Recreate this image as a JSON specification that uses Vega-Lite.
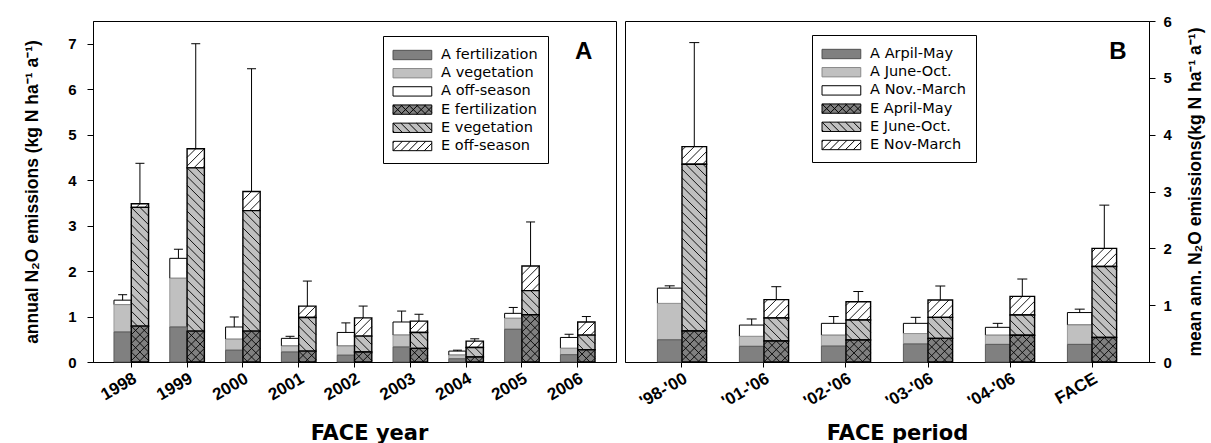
{
"$schema": "https://vega.github.io/schema/vega-lite/v6.json",
"background": "white",
"padding": {"left": 23, "top": 13, "right": 2, "bottom": 0},
"spacing": 7,
"config": {
 "font": "Liberation Sans",
 "view": {"stroke": "black", "strokeWidth": 1},
 "axis": {"grid": false, "domainColor": "black", "tickColor": "black", "labelColor": "black", "titleColor": "black"},
 "axisX": {"labelAngle": -30, "labelAlign": "right", "labelBaseline": "top", "labelFontWeight": "bold", "labelFontSize": 17, "tickSize": 5, "labelPadding": 3, "titleFont": "DejaVu Sans", "titleFontWeight": "bold", "titleFontSize": 21, "titleBaseline": "alphabetic", "bandPosition": 0.5},
 "axisY": {"labelFontWeight": "bold", "labelFontSize": 15, "tickSize": 6, "labelPadding": 11, "titleFontWeight": "bold", "titleFontSize": 17.5, "titlePadding": 26}
},
"resolve": {"scale": {"x": "independent", "y": "independent", "xOffset": "independent", "fill": "independent", "stroke": "independent", "shape": "independent"}, "legend": {"fill": "independent", "stroke": "independent", "shape": "independent"}},
"datasets": {
 "yearly": [
  {"cat":"1998","trt":"A","fert":0.66,"veg":1.26,"tot":1.36,"errTop":1.48},
  {"cat":"1998","trt":"E","fert":0.79,"veg":3.40,"tot":3.48,"errTop":4.37},
  {"cat":"1999","trt":"A","fert":0.77,"veg":1.84,"tot":2.28,"errTop":2.48},
  {"cat":"1999","trt":"E","fert":0.68,"veg":4.27,"tot":4.69,"errTop":7.00},
  {"cat":"2000","trt":"A","fert":0.26,"veg":0.50,"tot":0.77,"errTop":0.99},
  {"cat":"2000","trt":"E","fert":0.68,"veg":3.33,"tot":3.75,"errTop":6.45},
  {"cat":"2001","trt":"A","fert":0.22,"veg":0.35,"tot":0.52,"errTop":0.565},
  {"cat":"2001","trt":"E","fert":0.24,"veg":0.98,"tot":1.23,"errTop":1.78},
  {"cat":"2002","trt":"A","fert":0.15,"veg":0.35,"tot":0.65,"errTop":0.86},
  {"cat":"2002","trt":"E","fert":0.22,"veg":0.57,"tot":0.97,"errTop":1.23},
  {"cat":"2003","trt":"A","fert":0.33,"veg":0.59,"tot":0.88,"errTop":1.12},
  {"cat":"2003","trt":"E","fert":0.30,"veg":0.65,"tot":0.90,"errTop":1.05},
  {"cat":"2004","trt":"A","fert":0.07,"veg":0.15,"tot":0.24,"errTop":0.26},
  {"cat":"2004","trt":"E","fert":0.11,"veg":0.32,"tot":0.46,"errTop":0.51},
  {"cat":"2005","trt":"A","fert":0.72,"veg":0.96,"tot":1.07,"errTop":1.20},
  {"cat":"2005","trt":"E","fert":1.04,"veg":1.57,"tot":2.11,"errTop":3.08},
  {"cat":"2006","trt":"A","fert":0.16,"veg":0.30,"tot":0.54,"errTop":0.61},
  {"cat":"2006","trt":"E","fert":0.27,"veg":0.59,"tot":0.88,"errTop":1.00}
 ],
 "period": [
  {"cat":"'98-'00","trt":"A","fert":0.39,"veg":1.03,"tot":1.30,"errTop":1.34},
  {"cat":"'98-'00","trt":"E","fert":0.545,"veg":3.48,"tot":3.79,"errTop":5.62},
  {"cat":"'01-'06","trt":"A","fert":0.276,"veg":0.45,"tot":0.65,"errTop":0.757},
  {"cat":"'01-'06","trt":"E","fert":0.37,"veg":0.774,"tot":1.097,"errTop":1.325},
  {"cat":"'02-'06","trt":"A","fert":0.28,"veg":0.47,"tot":0.68,"errTop":0.80},
  {"cat":"'02-'06","trt":"E","fert":0.387,"veg":0.74,"tot":1.06,"errTop":1.24},
  {"cat":"'03-'06","trt":"A","fert":0.317,"veg":0.50,"tot":0.68,"errTop":0.786},
  {"cat":"'03-'06","trt":"E","fert":0.416,"veg":0.786,"tot":1.09,"errTop":1.337},
  {"cat":"'04-'06","trt":"A","fert":0.31,"veg":0.47,"tot":0.61,"errTop":0.68},
  {"cat":"'04-'06","trt":"E","fert":0.47,"veg":0.827,"tot":1.155,"errTop":1.46},
  {"cat":"FACE","trt":"A","fert":0.31,"veg":0.65,"tot":0.87,"errTop":0.93},
  {"cat":"FACE","trt":"E","fert":0.43,"veg":1.68,"tot":2.00,"errTop":2.76}
 ],
 "legA": [{"label":"A fertilization"},{"label":"A vegetation"},{"label":"A off-season"},{"label":"E fertilization"},{"label":"E vegetation"},{"label":"E off-season"}],
 "legB": [{"label":"A Arpil-May"},{"label":"A June-Oct."},{"label":"A Nov.-March"},{"label":"E April-May"},{"label":"E June-Oct."},{"label":"E Nov-March"}],
 "tagA": [{"cat":"2006","y":6.67,"tag":"A"}],
 "tagB": [{"cat":"FACE","y":5.33,"tag":"B"}]
},
"hconcat": [
 {
  "width": 523, "height": 341,
  "layer": [
   {"data": {"name": "legA"}, "mark": {"type": "point", "filled": true, "opacity": 0, "strokeWidth": 1},
    "encoding": {
     "fill": {"field": "label", "type": "nominal", "scale": {"domain": ["A fertilization","A vegetation","A off-season","E fertilization","E vegetation","E off-season"], "range": ["#808080","#c0c0c0","#ffffff","#808080","#c0c0c0","#ffffff"]},
      "legend": {"title": null, "orient": "none", "legendX": 290, "legendY": 15, "direction": "vertical", "symbolSize": 289, "symbolStrokeWidth": 1, "symbolOffset": 10.4, "labelOffset": 19.7, "rowPadding": 2.2, "padding": 10, "strokeColor": "black", "fillColor": "white", "labelFont": "DejaVu Sans", "labelFontSize": 14.5, "labelColor": "black", "symbolOpacity": 1}},
     "stroke": {"field": "label", "type": "nominal", "scale": {"domain": ["A fertilization","A vegetation","A off-season","E fertilization","E vegetation","E off-season"], "range": ["#505050","#8a8a8a","#000000","#000000","#000000","#000000"]},
      "legend": {"title": null, "orient": "none", "legendX": 290, "legendY": 15, "direction": "vertical", "symbolSize": 289, "symbolStrokeWidth": 1, "symbolOffset": 10.4, "labelOffset": 19.7, "rowPadding": 2.2, "padding": 10, "strokeColor": "black", "fillColor": "white", "labelFont": "DejaVu Sans", "labelFontSize": 14.5, "labelColor": "black", "symbolOpacity": 1}},
     "shape": {"field": "label", "type": "nominal", "scale": {"domain": ["A fertilization","A vegetation","A off-season","E fertilization","E vegetation","E off-season"], "range": [
       "M-2.28,-0.55L2.28,-0.55L2.28,0.55L-2.28,0.55Z",
       "M-2.28,-0.55L2.28,-0.55L2.28,0.55L-2.28,0.55Z",
       "M-2.28,-0.55L2.28,-0.55L2.28,0.55L-2.28,0.55Z",
       "M-2.28,-0.55L2.28,-0.55L2.28,0.55L-2.28,0.55ZM-2.28,-0.55L-1.18,0.55M-1.36,-0.55L-0.26,0.55M-0.44,-0.55L0.66,0.55M0.48,-0.55L1.58,0.55M1.4,-0.55L2.28,0.33M-2.28,0.37L-2.1,0.55M-2.28,0.55L-1.18,-0.55M-1.36,0.55L-0.26,-0.55M-0.44,0.55L0.66,-0.55M0.48,0.55L1.58,-0.55M1.4,0.55L2.28,-0.33M-2.28,-0.37L-2.1,-0.55",
       "M-2.28,-0.55L2.28,-0.55L2.28,0.55L-2.28,0.55ZM-2.28,-0.55L-1.18,0.55M-1.36,-0.55L-0.26,0.55M-0.44,-0.55L0.66,0.55M0.48,-0.55L1.58,0.55M1.4,-0.55L2.28,0.33M-2.28,0.37L-2.1,0.55",
       "M-2.28,-0.55L2.28,-0.55L2.28,0.55L-2.28,0.55ZM-2.28,0.55L-1.18,-0.55M-1.36,0.55L-0.26,-0.55M-0.44,0.55L0.66,-0.55M0.48,0.55L1.58,-0.55M1.4,0.55L2.28,-0.33M-2.28,-0.37L-2.1,-0.55"]},
      "legend": {"title": null, "orient": "none", "legendX": 290, "legendY": 15, "direction": "vertical", "symbolSize": 289, "symbolStrokeWidth": 1, "symbolOffset": 10.4, "labelOffset": 19.7, "rowPadding": 2.2, "padding": 10, "strokeColor": "black", "fillColor": "white", "labelFont": "DejaVu Sans", "labelFontSize": 14.5, "labelColor": "black", "symbolOpacity": 1}}
    }},
   {"data": {"name": "yearly"}, "mark": {"type": "bar", "fill": "white", "stroke": "black"},
    "encoding": {
     "x": {"field": "cat", "type": "nominal", "scale": {"domain": ["1998","1999","2000","2001","2002","2003","2004","2005","2006"], "paddingInner": 0.38, "paddingOuter": 0.376}, "axis": {"title": "FACE year", "titleY": 77, "titleX": 276}},
     "xOffset": {"field": "trt", "type": "nominal", "scale": {"domain": ["A","E"], "paddingInner": 0, "paddingOuter": 0}},
     "y": {"field": "tot", "type": "quantitative", "scale": {"domain": [0, 7.5], "nice": false}, "axis": {"values": [0,1,2,3,4,5,6,7], "format": "d", "title": "annual N₂O emissions (kg N ha⁻¹ a⁻¹)"}},
     "y2": {"field": "veg"},
     "strokeWidth": {"condition": {"test": "datum.trt === 'E'", "value": 1.4}, "value": 1}
    }},
   {"data": {"name": "yearly"}, "transform": [{"filter": "datum.trt === 'E'"}],
    "mark": {"type": "point", "shape": "M-1,1L0,0M-1,2L1,0M-1,3L1,1M-1,4L1,2M-1,5L1,3M-1,6L1,4M-1,7L1,5M-1,8L1,6", "size": 299, "filled": false, "stroke": "black", "strokeWidth": 0.9, "opacity": 1, "clip": true},
    "encoding": {
     "x": {"field": "cat", "type": "nominal", "scale": {"domain": ["1998","1999","2000","2001","2002","2003","2004","2005","2006"], "paddingInner": 0.38, "paddingOuter": 0.376}},
     "xOffset": {"field": "trt", "type": "nominal", "scale": {"domain": ["A","E"], "paddingInner": 0, "paddingOuter": 0}},
     "y": {"field": "tot", "type": "quantitative", "scale": {"domain": [0, 7.5], "nice": false}}
    }},
   {"data": {"name": "yearly"}, "mark": {"type": "bar", "fill": "#c0c0c0"},
    "encoding": {
     "x": {"field": "cat", "type": "nominal", "scale": {"domain": ["1998","1999","2000","2001","2002","2003","2004","2005","2006"], "paddingInner": 0.38, "paddingOuter": 0.376}},
     "xOffset": {"field": "trt", "type": "nominal", "scale": {"domain": ["A","E"], "paddingInner": 0, "paddingOuter": 0}},
     "y": {"field": "veg", "type": "quantitative", "scale": {"domain": [0, 7.5], "nice": false}},
     "y2": {"field": "fert"},
     "stroke": {"condition": {"test": "datum.trt === 'E'", "value": "black"}, "value": "#9a9a9a"},
     "strokeWidth": {"condition": {"test": "datum.trt === 'E'", "value": 1.4}, "value": 1}
    }},
   {"data": {"name": "yearly"}, "transform": [{"filter": "datum.trt === 'E'"}],
    "mark": {"type": "point", "shape": "M0,0L1,1M-1,0L1,2M-1,1L1,3M-1,2L1,4M-1,3L1,5M-1,4L1,6M-1,5L1,7M-1,6L1,8M-1,7L1,9M-1,8L1,10M-1,9L1,11M-1,10L1,12M-1,11L1,13M-1,12L1,14M-1,13L1,15M-1,14L1,16M-1,15L1,17M-1,16L1,18M-1,17L1,19M-1,18L1,20M-1,19L1,21M-1,20L1,22", "size": 299, "filled": false, "stroke": "black", "strokeWidth": 0.9, "opacity": 1, "clip": true},
    "encoding": {
     "x": {"field": "cat", "type": "nominal", "scale": {"domain": ["1998","1999","2000","2001","2002","2003","2004","2005","2006"], "paddingInner": 0.38, "paddingOuter": 0.376}},
     "xOffset": {"field": "trt", "type": "nominal", "scale": {"domain": ["A","E"], "paddingInner": 0, "paddingOuter": 0}},
     "y": {"field": "veg", "type": "quantitative", "scale": {"domain": [0, 7.5], "nice": false}}
    }},
   {"data": {"name": "yearly"}, "mark": {"type": "bar", "fill": "#808080"},
    "encoding": {
     "x": {"field": "cat", "type": "nominal", "scale": {"domain": ["1998","1999","2000","2001","2002","2003","2004","2005","2006"], "paddingInner": 0.38, "paddingOuter": 0.376}},
     "xOffset": {"field": "trt", "type": "nominal", "scale": {"domain": ["A","E"], "paddingInner": 0, "paddingOuter": 0}},
     "y": {"field": "fert", "type": "quantitative", "scale": {"domain": [0, 7.5], "nice": false}},
     "y2": {"datum": 0},
     "stroke": {"condition": {"test": "datum.trt === 'E'", "value": "black"}, "value": "#5a5a5a"},
     "strokeWidth": {"condition": {"test": "datum.trt === 'E'", "value": 1.4}, "value": 1}
    }},
   {"data": {"name": "yearly"}, "transform": [{"filter": "datum.trt === 'E'"}],
    "mark": {"type": "point", "shape": "M0,0L1,1M-1,0L1,2M-1,1L1,3M-1,2L1,4M-1,3L1,5M-1,4L1,6M-1,5L1,7M-1,6L1,8M-1,1L0,0M-1,2L1,0M-1,3L1,1M-1,4L1,2M-1,5L1,3M-1,6L1,4M-1,7L1,5M-1,8L1,6", "size": 299, "filled": false, "stroke": "black", "strokeWidth": 0.9, "opacity": 1, "clip": true},
    "encoding": {
     "x": {"field": "cat", "type": "nominal", "scale": {"domain": ["1998","1999","2000","2001","2002","2003","2004","2005","2006"], "paddingInner": 0.38, "paddingOuter": 0.376}},
     "xOffset": {"field": "trt", "type": "nominal", "scale": {"domain": ["A","E"], "paddingInner": 0, "paddingOuter": 0}},
     "y": {"field": "fert", "type": "quantitative", "scale": {"domain": [0, 7.5], "nice": false}}
    }},
   {"data": {"name": "yearly"}, "mark": {"type": "rule", "stroke": "black", "strokeWidth": 1},
    "encoding": {
     "x": {"field": "cat", "type": "nominal", "scale": {"domain": ["1998","1999","2000","2001","2002","2003","2004","2005","2006"], "paddingInner": 0.38, "paddingOuter": 0.376}},
     "xOffset": {"field": "trt", "type": "nominal", "scale": {"domain": ["A","E"], "paddingInner": 0, "paddingOuter": 0}},
     "y": {"field": "tot", "type": "quantitative", "scale": {"domain": [0, 7.5], "nice": false}},
     "y2": {"field": "errTop"}
    }},
   {"data": {"name": "yearly"}, "mark": {"type": "point", "shape": "M-1,0L1,0", "size": 81, "filled": false, "stroke": "black", "strokeWidth": 1, "opacity": 1},
    "encoding": {
     "x": {"field": "cat", "type": "nominal", "scale": {"domain": ["1998","1999","2000","2001","2002","2003","2004","2005","2006"], "paddingInner": 0.38, "paddingOuter": 0.376}},
     "xOffset": {"field": "trt", "type": "nominal", "scale": {"domain": ["A","E"], "paddingInner": 0, "paddingOuter": 0}},
     "y": {"field": "errTop", "type": "quantitative", "scale": {"domain": [0, 7.5], "nice": false}}
    }},
   {"mark": {"type": "rule", "stroke": "black", "strokeWidth": 1, "strokeDash": [7, 3]},
    "encoding": {"x": {"datum": "2000", "bandPosition": 1.33}}},
   {"data": {"name": "tagA"}, "mark": {"type": "text", "font": "Liberation Sans", "fontSize": 24, "fontWeight": "bold", "baseline": "alphabetic", "align": "center", "dx": 6, "color": "black"},
    "encoding": {"x": {"field": "cat", "type": "nominal"}, "y": {"field": "y", "type": "quantitative"}, "text": {"field": "tag"}}}
  ]
 },
 {
  "width": 524, "height": 341,
  "layer": [
   {"data": {"name": "legB"}, "mark": {"type": "point", "filled": true, "opacity": 0, "strokeWidth": 1},
    "encoding": {
     "fill": {"field": "label", "type": "nominal", "scale": {"domain": ["A Arpil-May","A June-Oct.","A Nov.-March","E April-May","E June-Oct.","E Nov-March"], "range": ["#808080","#c0c0c0","#ffffff","#808080","#c0c0c0","#ffffff"]},
      "legend": {"title": null, "orient": "none", "legendX": 187, "legendY": 14, "direction": "vertical", "symbolSize": 289, "symbolStrokeWidth": 1, "symbolOffset": 10.4, "labelOffset": 19.7, "rowPadding": 2.2, "padding": 10, "strokeColor": "black", "fillColor": "white", "labelFont": "DejaVu Sans", "labelFontSize": 14.5, "labelColor": "black", "symbolOpacity": 1}},
     "stroke": {"field": "label", "type": "nominal", "scale": {"domain": ["A Arpil-May","A June-Oct.","A Nov.-March","E April-May","E June-Oct.","E Nov-March"], "range": ["#505050","#8a8a8a","#000000","#000000","#000000","#000000"]},
      "legend": {"title": null, "orient": "none", "legendX": 187, "legendY": 14, "direction": "vertical", "symbolSize": 289, "symbolStrokeWidth": 1, "symbolOffset": 10.4, "labelOffset": 19.7, "rowPadding": 2.2, "padding": 10, "strokeColor": "black", "fillColor": "white", "labelFont": "DejaVu Sans", "labelFontSize": 14.5, "labelColor": "black", "symbolOpacity": 1}},
     "shape": {"field": "label", "type": "nominal", "scale": {"domain": ["A Arpil-May","A June-Oct.","A Nov.-March","E April-May","E June-Oct.","E Nov-March"], "range": [
       "M-2.28,-0.55L2.28,-0.55L2.28,0.55L-2.28,0.55Z",
       "M-2.28,-0.55L2.28,-0.55L2.28,0.55L-2.28,0.55Z",
       "M-2.28,-0.55L2.28,-0.55L2.28,0.55L-2.28,0.55Z",
       "M-2.28,-0.55L2.28,-0.55L2.28,0.55L-2.28,0.55ZM-2.28,-0.55L-1.18,0.55M-1.36,-0.55L-0.26,0.55M-0.44,-0.55L0.66,0.55M0.48,-0.55L1.58,0.55M1.4,-0.55L2.28,0.33M-2.28,0.37L-2.1,0.55M-2.28,0.55L-1.18,-0.55M-1.36,0.55L-0.26,-0.55M-0.44,0.55L0.66,-0.55M0.48,0.55L1.58,-0.55M1.4,0.55L2.28,-0.33M-2.28,-0.37L-2.1,-0.55",
       "M-2.28,-0.55L2.28,-0.55L2.28,0.55L-2.28,0.55ZM-2.28,-0.55L-1.18,0.55M-1.36,-0.55L-0.26,0.55M-0.44,-0.55L0.66,0.55M0.48,-0.55L1.58,0.55M1.4,-0.55L2.28,0.33M-2.28,0.37L-2.1,0.55",
       "M-2.28,-0.55L2.28,-0.55L2.28,0.55L-2.28,0.55ZM-2.28,0.55L-1.18,-0.55M-1.36,0.55L-0.26,-0.55M-0.44,0.55L0.66,-0.55M0.48,0.55L1.58,-0.55M1.4,0.55L2.28,-0.33M-2.28,-0.37L-2.1,-0.55"]},
      "legend": {"title": null, "orient": "none", "legendX": 187, "legendY": 14, "direction": "vertical", "symbolSize": 289, "symbolStrokeWidth": 1, "symbolOffset": 10.4, "labelOffset": 19.7, "rowPadding": 2.2, "padding": 10, "strokeColor": "black", "fillColor": "white", "labelFont": "DejaVu Sans", "labelFontSize": 14.5, "labelColor": "black", "symbolOpacity": 1}}
    }},
   {"data": {"name": "period"}, "mark": {"type": "bar", "fill": "white", "stroke": "black"},
    "encoding": {
     "x": {"field": "cat", "type": "nominal", "scale": {"domain": ["'98-'00","'01-'06","'02-'06","'03-'06","'04-'06","FACE"], "paddingInner": 0.4, "paddingOuter": 0.395}, "axis": {"title": "FACE period", "titleY": 77, "titleX": 272}},
     "xOffset": {"field": "trt", "type": "nominal", "scale": {"domain": ["A","E"], "paddingInner": 0, "paddingOuter": 0}},
     "y": {"field": "tot", "type": "quantitative", "scale": {"domain": [0, 6], "nice": false}, "axis": {"orient": "right", "values": [0,1,2,3,4,5,6], "format": "d", "labelPadding": 8, "titlePadding": 15, "titleAngle": 270, "titleBaseline": "top", "title": "mean ann. N₂O emissions(kg N ha⁻¹ a⁻¹)"}},
     "y2": {"field": "veg"},
     "strokeWidth": {"condition": {"test": "datum.trt === 'E'", "value": 1.4}, "value": 1}
    }},
   {"data": {"name": "period"}, "transform": [{"filter": "datum.trt === 'E'"}],
    "mark": {"type": "point", "shape": "M-1,0.3L-0.7,0M-1,1L0,0M-1,1.7L0.7,0M-1,2.4L1,0.4M-1,3.1L1,1.1M-1,3.8L1,1.8M-1,4.5L1,2.5M-1,5.2L1,3.2", "size": 605, "filled": false, "stroke": "black", "strokeWidth": 0.9, "opacity": 1, "clip": true},
    "encoding": {
     "x": {"field": "cat", "type": "nominal", "scale": {"domain": ["'98-'00","'01-'06","'02-'06","'03-'06","'04-'06","FACE"], "paddingInner": 0.4, "paddingOuter": 0.395}},
     "xOffset": {"field": "trt", "type": "nominal", "scale": {"domain": ["A","E"], "paddingInner": 0, "paddingOuter": 0}},
     "y": {"field": "tot", "type": "quantitative", "scale": {"domain": [0, 6], "nice": false}}
    }},
   {"data": {"name": "period"}, "mark": {"type": "bar", "fill": "#c0c0c0"},
    "encoding": {
     "x": {"field": "cat", "type": "nominal", "scale": {"domain": ["'98-'00","'01-'06","'02-'06","'03-'06","'04-'06","FACE"], "paddingInner": 0.4, "paddingOuter": 0.395}},
     "xOffset": {"field": "trt", "type": "nominal", "scale": {"domain": ["A","E"], "paddingInner": 0, "paddingOuter": 0}},
     "y": {"field": "veg", "type": "quantitative", "scale": {"domain": [0, 6], "nice": false}},
     "y2": {"field": "fert"},
     "stroke": {"condition": {"test": "datum.trt === 'E'", "value": "black"}, "value": "#9a9a9a"},
     "strokeWidth": {"condition": {"test": "datum.trt === 'E'", "value": 1.4}, "value": 1}
    }},
   {"data": {"name": "period"}, "transform": [{"filter": "datum.trt === 'E'"}],
    "mark": {"type": "point", "shape": "M0.7,0L1,0.3M0,0L1,1M-0.7,0L1,1.7M-1,0.4L1,2.4M-1,1.1L1,3.1M-1,1.8L1,3.8M-1,2.5L1,4.5M-1,3.2L1,5.2M-1,3.9L1,5.9M-1,4.6L1,6.6M-1,5.3L1,7.3M-1,6L1,8M-1,6.7L1,8.7M-1,7.4L1,9.4M-1,8.1L1,10.1M-1,8.8L1,10.8M-1,9.5L1,11.5M-1,10.2L1,12.2M-1,10.9L1,12.9M-1,11.6L1,13.6M-1,12.3L1,14.3M-1,13L1,15M-1,13.7L1,15.7M-1,14.4L1,16.4", "size": 605, "filled": false, "stroke": "black", "strokeWidth": 0.9, "opacity": 1, "clip": true},
    "encoding": {
     "x": {"field": "cat", "type": "nominal", "scale": {"domain": ["'98-'00","'01-'06","'02-'06","'03-'06","'04-'06","FACE"], "paddingInner": 0.4, "paddingOuter": 0.395}},
     "xOffset": {"field": "trt", "type": "nominal", "scale": {"domain": ["A","E"], "paddingInner": 0, "paddingOuter": 0}},
     "y": {"field": "veg", "type": "quantitative", "scale": {"domain": [0, 6], "nice": false}}
    }},
   {"data": {"name": "period"}, "mark": {"type": "bar", "fill": "#808080"},
    "encoding": {
     "x": {"field": "cat", "type": "nominal", "scale": {"domain": ["'98-'00","'01-'06","'02-'06","'03-'06","'04-'06","FACE"], "paddingInner": 0.4, "paddingOuter": 0.395}},
     "xOffset": {"field": "trt", "type": "nominal", "scale": {"domain": ["A","E"], "paddingInner": 0, "paddingOuter": 0}},
     "y": {"field": "fert", "type": "quantitative", "scale": {"domain": [0, 6], "nice": false}},
     "y2": {"datum": 0},
     "stroke": {"condition": {"test": "datum.trt === 'E'", "value": "black"}, "value": "#5a5a5a"},
     "strokeWidth": {"condition": {"test": "datum.trt === 'E'", "value": 1.4}, "value": 1}
    }},
   {"data": {"name": "period"}, "transform": [{"filter": "datum.trt === 'E'"}],
    "mark": {"type": "point", "shape": "M0.7,0L1,0.3M0,0L1,1M-0.7,0L1,1.7M-1,0.4L1,2.4M-1,1.1L1,3.1M-1,1.8L1,3.8M-1,2.5L1,4.5M-1,0.3L-0.7,0M-1,1L0,0M-1,1.7L0.7,0M-1,2.4L1,0.4M-1,3.1L1,1.1M-1,3.8L1,1.8M-1,4.5L1,2.5", "size": 605, "filled": false, "stroke": "black", "strokeWidth": 0.9, "opacity": 1, "clip": true},
    "encoding": {
     "x": {"field": "cat", "type": "nominal", "scale": {"domain": ["'98-'00","'01-'06","'02-'06","'03-'06","'04-'06","FACE"], "paddingInner": 0.4, "paddingOuter": 0.395}},
     "xOffset": {"field": "trt", "type": "nominal", "scale": {"domain": ["A","E"], "paddingInner": 0, "paddingOuter": 0}},
     "y": {"field": "fert", "type": "quantitative", "scale": {"domain": [0, 6], "nice": false}}
    }},
   {"data": {"name": "period"}, "mark": {"type": "rule", "stroke": "black", "strokeWidth": 1},
    "encoding": {
     "x": {"field": "cat", "type": "nominal", "scale": {"domain": ["'98-'00","'01-'06","'02-'06","'03-'06","'04-'06","FACE"], "paddingInner": 0.4, "paddingOuter": 0.395}},
     "xOffset": {"field": "trt", "type": "nominal", "scale": {"domain": ["A","E"], "paddingInner": 0, "paddingOuter": 0}},
     "y": {"field": "tot", "type": "quantitative", "scale": {"domain": [0, 6], "nice": false}},
     "y2": {"field": "errTop"}
    }},
   {"data": {"name": "period"}, "mark": {"type": "point", "shape": "M-1,0L1,0", "size": 100, "filled": false, "stroke": "black", "strokeWidth": 1, "opacity": 1},
    "encoding": {
     "x": {"field": "cat", "type": "nominal", "scale": {"domain": ["'98-'00","'01-'06","'02-'06","'03-'06","'04-'06","FACE"], "paddingInner": 0.4, "paddingOuter": 0.395}},
     "xOffset": {"field": "trt", "type": "nominal", "scale": {"domain": ["A","E"], "paddingInner": 0, "paddingOuter": 0}},
     "y": {"field": "errTop", "type": "quantitative", "scale": {"domain": [0, 6], "nice": false}}
    }},
   {"mark": {"type": "rule", "stroke": "black", "strokeWidth": 1, "strokeDash": [7, 3]},
    "encoding": {"x": {"datum": "'98-'00", "bandPosition": 1.36}}},
   {"mark": {"type": "rule", "stroke": "black", "strokeWidth": 1, "strokeDash": [1.5, 2.5]},
    "encoding": {"x": {"datum": "'04-'06", "bandPosition": 1.39}}},
   {"data": {"name": "tagB"}, "mark": {"type": "text", "font": "Liberation Sans", "fontSize": 24, "fontWeight": "bold", "baseline": "alphabetic", "align": "center", "dx": 26, "color": "black"},
    "encoding": {"x": {"field": "cat", "type": "nominal"}, "y": {"field": "y", "type": "quantitative"}, "text": {"field": "tag"}}}
  ]
 }
]
}
